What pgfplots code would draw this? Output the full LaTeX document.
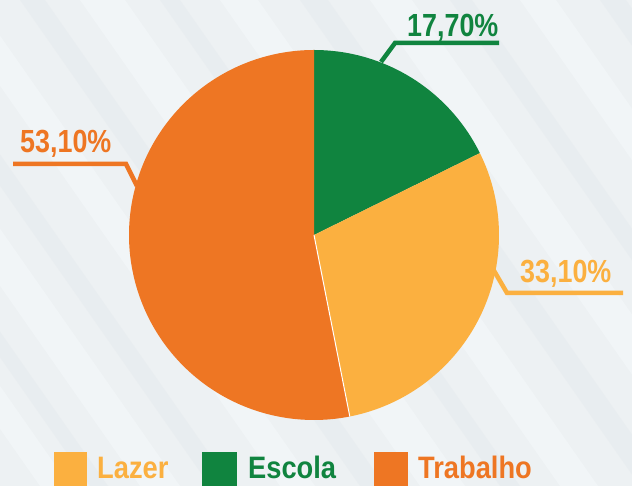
\documentclass[border=0pt]{standalone}
\usepackage{pgfplots}
\pgfplotsset{compat=1.18}
\usepackage{fontspec}
\setmainfont{Liberation Sans}[FakeStretch=0.84]
\newfontfamily\legfont{Liberation Sans}[FakeStretch=0.88]
\definecolor{cEscola}{HTML}{10843F}
\definecolor{cLazer}{HTML}{FBB040}
\definecolor{cTrab}{HTML}{EE7623}
\definecolor{bg}{HTML}{EDF1F3}
\definecolor{bgl}{HTML}{F4F8FA}
\definecolor{bgd}{HTML}{E6EBEE}
% slice shares as drawn (percent)
\def\vEscola{17.7}
\def\vLazer{29.2}
\def\vTrab{53.1}
\begin{document}
\begin{tikzpicture}
\begin{scope}
\clip (0,0) rectangle (632pt,486pt);
\fill[bg] (0,0) rectangle (632pt,486pt);
\foreach \s/\w/\c in {-300/30/bgl,-250/18/bgd,-200/40/bgl,-130/22/bgd,-60/35/bgl,20/25/bgd,80/45/bgl,160/20/bgd,220/38/bgl,300/28/bgd,370/42/bgl,450/22/bgd,520/36/bgl,600/26/bgd,680/40/bgl,760/20/bgd,830/36/bgl,900/30/bgd}{
  \fill[\c, opacity=0.6] (\s pt,486pt) -- ++(\w pt,0) -- ++(340pt,-486pt) -- ++(-\w pt,0) -- cycle;
}
\end{scope}
\pgfmathsetmacro{\aA}{90}
\pgfmathsetmacro{\aB}{90-3.6*\vEscola}
\pgfmathsetmacro{\aC}{\aB-3.6*\vLazer}
\pgfmathsetmacro{\aD}{\aC-3.6*\vTrab}
\begin{axis}[
  width=632pt, height=486pt, scale only axis,
  xmin=0, xmax=632, ymin=0, ymax=486,
  hide axis, clip=false,
]
\addplot[fill=cEscola, draw=none, domain=\aB:\aA, samples=80]
  ({314+185*cos(x)},{251+185*sin(x)}) -- (axis cs:314,251) -- cycle;
\addplot[fill=cLazer, draw=none, domain=\aC:\aB, samples=120]
  ({314+185*cos(x)},{251+185*sin(x)}) -- (axis cs:314,251) -- cycle;
\addplot[fill=cTrab, draw=none, domain=\aD:\aC, samples=200]
  ({314+185*cos(x)},{251+185*sin(x)}) -- (axis cs:314,251) -- cycle;
\draw[white, line width=1pt] (axis cs:314,251) -- (axis cs:{314+185*cos(\aC)},{251+185*sin(\aC)});
% leaders
\draw[cEscola, line width=4.5pt] (axis cs:499,443) -- (axis cs:395,443) -- (axis cs:381,424);
\draw[cTrab, line width=4.5pt] (axis cs:13,322) -- (axis cs:126,322) -- (axis cs:137,300);
\draw[cLazer, line width=4.5pt] (axis cs:623,193) -- (axis cs:507,193) -- (axis cs:493,217);
\node[anchor=base west, inner sep=0, text=cEscola, font=\fontsize{32}{32}\selectfont\bfseries] at (axis cs:407,449) {17,70\%};
\node[anchor=base west, inner sep=0, text=cTrab, font=\fontsize{32}{32}\selectfont\bfseries] at (axis cs:20,333) {53,10\%};
\node[anchor=base west, inner sep=0, text=cLazer, font=\fontsize{32}{32}\selectfont\bfseries] at (axis cs:520,203) {33,10\%};
% legend
\fill[cLazer] (axis cs:54,0) rectangle (axis cs:87,34);
\fill[cEscola] (axis cs:202,0) rectangle (axis cs:237,34);
\fill[cTrab] (axis cs:374,0) rectangle (axis cs:408,34);
\node[anchor=base west, inner sep=0, text=cLazer, font=\legfont\fontsize{31}{31}\selectfont\bfseries] at (axis cs:97,7) {Lazer};
\node[anchor=base west, inner sep=0, text=cEscola, font=\legfont\fontsize{31}{31}\selectfont\bfseries] at (axis cs:248,7) {Escola};
\node[anchor=base west, inner sep=0, text=cTrab, font=\legfont\fontsize{31}{31}\selectfont\bfseries] at (axis cs:418,7) {Trabalho};
\end{axis}
\end{tikzpicture}
\end{document}
